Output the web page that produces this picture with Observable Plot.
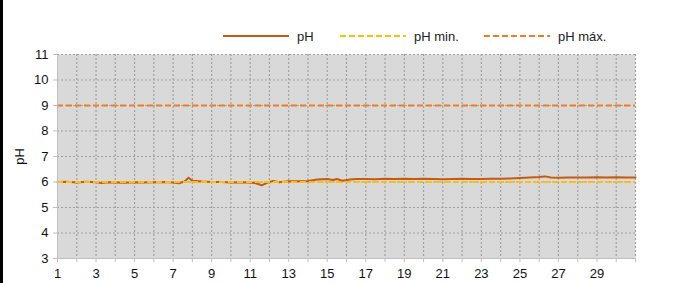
<!DOCTYPE html>
<html>
<head>
<meta charset="utf-8">
<script src="https://cdn.jsdelivr.net/npm/d3@7"></script>
<script src="https://cdn.jsdelivr.net/npm/@observablehq/plot@0.6"></script>
<style>
  html, body { margin: 0; padding: 0; background: #fff; }
  #wrap { position: relative; width: 680px; height: 283px; overflow: hidden; font-family: "Liberation Sans", Arial, sans-serif; }
  #edge { position: absolute; left: 0; top: 0; width: 3px; height: 283px; background: #000; z-index: 2; }
  #legend { position: relative; height: 46px; width: 680px; }
  .item { position: absolute; top: 28px; height: 16px; display: flex; align-items: center; font-size: 13px; color: #222; }
  .item svg { margin-right: 8px; }
  #chart svg { display: block; }
</style>
</head>
<body>
<div id="wrap">
  <div id="edge"></div>
  <div id="legend"></div>
  <div id="chart"></div>
</div>
<script>
// Data (day of month, pH)
const days = [1.0,1.5,2.0,2.5,3.0,3.3,3.6,4.0,4.5,5.0,5.5,6.0,6.5,7.0,7.3,7.6,7.8,8.0,8.5,9.0,9.5,10.0,10.5,11.0,11.3,11.6,11.9,12.2,12.5,13.0,13.5,14.0,14.5,15.0,15.3,15.5,15.8,16.2,16.5,17.0,17.5,18.0,18.5,19.0,19.5,20.0,20.5,21.0,21.5,22.0,22.5,23.0,23.5,24.0,24.5,25.0,25.5,26.0,26.3,26.6,27.0,27.5,28.0,28.5,29.0,29.5,30.0,30.5,31.0];
const phValues = [6.00,6.01,5.98,6.01,5.99,5.96,5.99,5.98,5.97,5.99,5.98,5.99,6.00,5.98,5.95,6.02,6.17,6.05,6.02,6.00,6.00,5.98,5.99,5.98,5.95,5.87,5.98,6.04,5.99,6.03,6.03,6.04,6.10,6.12,6.08,6.12,6.05,6.10,6.12,6.12,6.11,6.13,6.12,6.13,6.12,6.13,6.12,6.11,6.12,6.13,6.12,6.12,6.13,6.13,6.14,6.16,6.18,6.20,6.22,6.18,6.17,6.18,6.18,6.18,6.19,6.18,6.19,6.18,6.18];
const phMin = 6;
const phMax = 9;
const xTickLabels = [1,3,5,7,9,11,13,15,17,19,21,23,25,27,29];
const gridDays = d3.range(1, 32);
const yTicks = [3,4,5,6,7,8,9,10,11];
const seriesNames = ["pH", "pH min.", "pH máx."];
const seriesColors = ["#c55a11", "#ffc000", "#f47b20"];

const data = days.map((d, i) => ({day: d, ph: phValues[i]}));

// Legend
const legend = document.getElementById("legend");
const legendX = [223, 340, 484];
seriesNames.forEach((name, i) => {
  const it = document.createElement("div");
  it.className = "item";
  it.style.left = legendX[i] + "px";
  const dash = i === 0 ? "" : ` stroke-dasharray="6,3"`;
  it.innerHTML = `<svg width="66" height="6"><line x1="0" x2="66" y1="3" y2="3" stroke="${seriesColors[i]}" stroke-width="2"${dash}/></svg><span>${name}</span>`;
  legend.appendChild(it);
});

const gridColor = "#a0a0a0";
const chart = Plot.plot({
  width: 680,
  height: 237,
  marginTop: 8,
  marginBottom: 25,
  marginLeft: 57,
  marginRight: 45,
  style: {fontFamily: "'Liberation Sans', Arial, sans-serif", fontSize: "13px", color: "#111", background: "transparent"},
  x: {domain: [1, 31]},
  y: {domain: [3, 11]},
  marks: [
    Plot.frame({fill: "#d9d9d9", stroke: null}),
    Plot.ruleX(gridDays.slice(1), {stroke: gridColor, strokeDasharray: "2,2", strokeWidth: 1.2}),
    Plot.ruleY(yTicks.slice(1), {stroke: gridColor, strokeDasharray: "2,2", strokeWidth: 1.2}),
    Plot.ruleY([phMax], {stroke: seriesColors[2], strokeWidth: 2, strokeDasharray: "6,3"}),
    Plot.line(data, {x: "day", y: "ph", stroke: seriesColors[0], strokeWidth: 2}),
    Plot.ruleY([phMin], {stroke: seriesColors[1], strokeWidth: 2, strokeDasharray: "6,3"}),
    Plot.ruleX([1], {stroke: "#bfbfbf"}),
    Plot.ruleY([3], {stroke: "#bfbfbf"}),
    Plot.axisX(gridDays, {tickSize: 4, tickPadding: 6, stroke: "#bfbfbf", tickFormat: d => xTickLabels.includes(d) ? String(d) : "", label: null}),
    Plot.axisY(yTicks, {tickSize: 4, tickPadding: 5, stroke: "#bfbfbf", label: "pH", labelAnchor: "center", labelArrow: "none", labelOffset: 43})
  ]
});
document.getElementById("chart").appendChild(chart);
</script>
</body>
</html>
